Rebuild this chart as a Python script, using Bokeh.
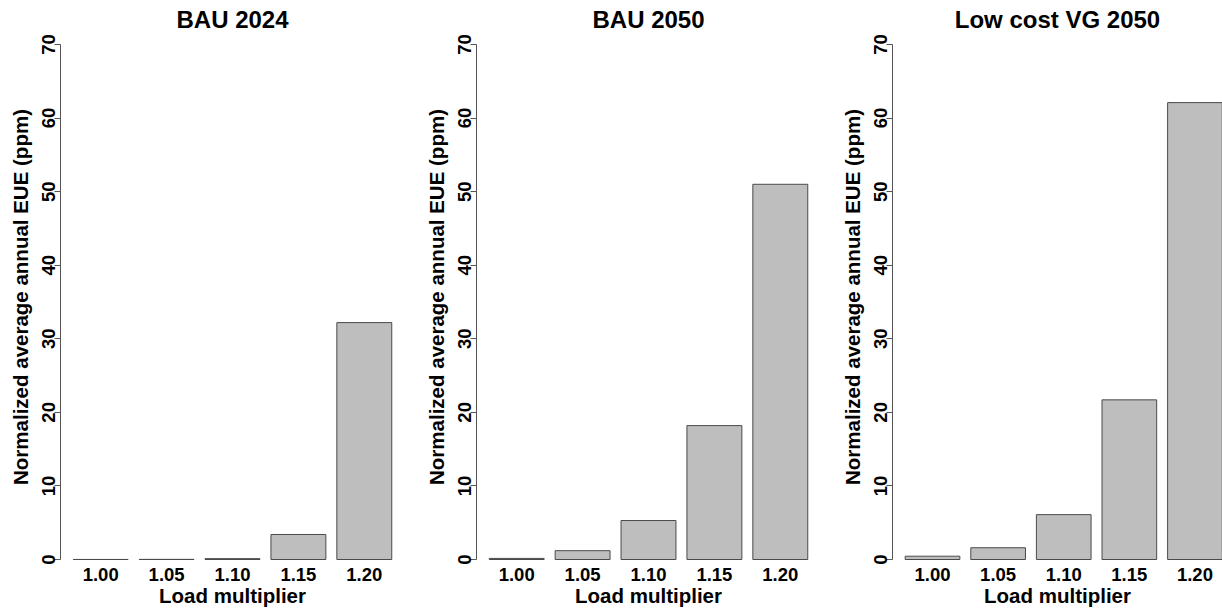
from bokeh.plotting import figure
from bokeh.layouts import row
from bokeh.models import ColumnDataSource, FixedTicker, Range1d
from bokeh.embed import file_html
from bokeh.resources import INLINE

# ---- data ----
multipliers = ["1.00", "1.05", "1.10", "1.15", "1.20"]
titles = ["BAU 2024", "BAU 2050", "Low cost VG 2050"]
bau_2024 = [0.01, 0.02, 0.12, 3.4, 32.2]
bau_2050 = [0.15, 1.2, 5.3, 18.2, 51.0]
low_cost_vg_2050 = [0.45, 1.6, 6.1, 21.7, 62.1]
y_ticks = [0, 10, 20, 30, 40, 50, 60, 70]
x_label = "Load multiplier"
y_label = "Normalized average annual EUE (ppm)"

series = [bau_2024, bau_2050, low_cost_vg_2050]

FONT = "Liberation Sans"
AX_COLOR = "#555555"

widths = [416, 416, 390]
right_borders = [12, 12, 0]
x_ends = [4.61, 4.61, 4.42]
title_offsets = [0, 0, 7]

figs = []
for k in range(3):
    pos = list(range(len(multipliers)))
    src = ColumnDataSource(dict(x=pos, top=series[k], label=multipliers))
    p = figure(width=widths[k], height=609, output_backend="svg",
               toolbar_location=None, title=titles[k],
               x_range=Range1d(-0.61, x_ends[k]),
               y_range=Range1d(-0.27, 71.63),
               min_border_left=60, min_border_right=right_borders[k],
               min_border_top=32, min_border_bottom=48)
    p.vbar(x="x", top="top", bottom=0, width=1 / 1.2, source=src,
           fill_color="#BEBEBE", line_color="#4a4a4a", line_width=1)

    p.title.text_font = FONT
    p.title.text_font_size = "24px"
    p.title.text_font_style = "bold"
    p.title.align = "center"
    p.title.standoff = 0
    p.title.offset = title_offsets[k]
    p.title.text_color = "black"

    p.grid.visible = False
    p.outline_line_color = None
    p.background_fill_color = "white"
    p.border_fill_color = "white"

    # x axis: category names only
    xa = p.xaxis[0]
    xa.ticker = FixedTicker(ticks=pos)
    xa.major_label_overrides = {i: m for i, m in enumerate(multipliers)}
    xa.axis_line_color = None
    xa.major_tick_line_color = None
    xa.minor_tick_line_color = None
    xa.major_tick_out = 0
    xa.major_tick_in = 0
    xa.minor_tick_out = 0
    xa.minor_tick_in = 0
    xa.major_label_text_font = FONT
    xa.major_label_text_font_size = "18.5px"
    xa.major_label_text_font_style = "bold"
    xa.major_label_text_color = "black"
    xa.major_label_standoff = 6
    xa.axis_label = x_label
    xa.axis_label_text_font = FONT
    xa.axis_label_text_font_size = "20.5px"
    xa.axis_label_text_font_style = "bold"
    xa.axis_label_text_color = "black"
    xa.axis_label_standoff = 0

    # y axis
    ya = p.yaxis[0]
    ya.ticker = FixedTicker(ticks=y_ticks)
    ya.bounds = (y_ticks[0], y_ticks[-1])
    ya.axis_line_color = AX_COLOR
    ya.major_tick_line_color = AX_COLOR
    ya.major_tick_out = 6
    ya.major_tick_in = 0
    ya.minor_tick_line_color = None
    ya.minor_tick_out = 0
    ya.minor_tick_in = 0
    ya.major_label_orientation = "vertical"
    ya.major_label_text_font = FONT
    ya.major_label_text_font_size = "18.5px"
    ya.major_label_text_font_style = "bold"
    ya.major_label_text_color = "black"
    ya.major_label_standoff = -1
    ya.axis_label = y_label
    ya.axis_label_text_font = FONT
    ya.axis_label_text_font_size = "20.5px"
    ya.axis_label_text_font_style = "bold"
    ya.axis_label_text_color = "black"
    ya.axis_label_standoff = 8

    figs.append(p)

layout = row(*figs)
open("out.html", "w").write(file_html(layout, INLINE))
